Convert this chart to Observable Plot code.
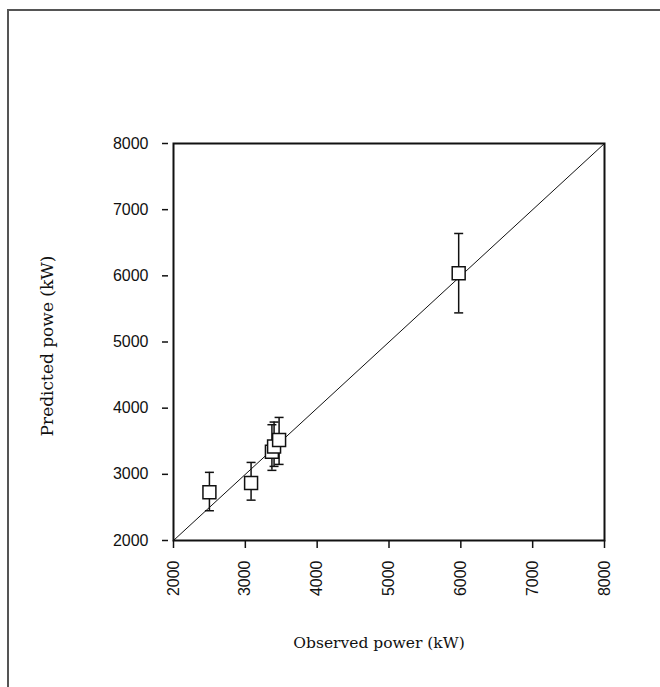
<!DOCTYPE html>
<html>
<head>
<meta charset="utf-8">
<script src="https://cdn.jsdelivr.net/npm/d3@7"></script>
<script src="https://cdn.jsdelivr.net/npm/@observablehq/plot@0.6"></script>
<style>
  html, body { margin: 0; padding: 0; background: #fff; }
  #wrap { position: relative; width: 660px; height: 687px; overflow: hidden; }
  #border { position: absolute; left: 7px; top: 9px; width: 700px; height: 700px;
            border-top: 2px solid #555; border-left: 2px solid #555; pointer-events: none; }
</style>
</head>
<body>
<div id="wrap"><div id="border"></div></div>
<script>
const observed  = [2500, 3080, 3370, 3400, 3470, 5970];
const predicted = [2730, 2870, 3340, 3420, 3520, 6040];
const errLow    = [2450, 2610, 3060, 3120, 3150, 5440];
const errHigh   = [3030, 3180, 3750, 3790, 3860, 6640];
const axisTicks = [2000, 3000, 4000, 5000, 6000, 7000, 8000];
const diagonal  = [2000, 8000];
const xTitle = "Observed power (kW)";
const yTitle = "Predicted powe (kW)";

const data = observed.map((x, i) => ({x, y: predicted[i], lo: errLow[i], hi: errHigh[i]}));

const capSymbol = {
  draw(context, size) {
    const r = Math.sqrt(size / Math.PI);
    context.moveTo(-r, 0);
    context.lineTo(r, 0);
  }
};

const fmt = d3.format("d");

const chart = Plot.plot({
  width: 660,
  height: 687,
  marginLeft: 173,
  marginRight: 56,
  marginTop: 143,
  marginBottom: 147,
  style: {background: "transparent", color: "#111"},
  x: {domain: [2000, 8000]},
  y: {domain: [2000, 8000]},
  marks: [
    Plot.axisY({ticks: axisTicks, tickFormat: fmt, tickSize: 6, tickPadding: 14, dx: -5, label: null,
      fontSize: 16, fontFamily: "Liberation Sans", strokeWidth: 1.5}),
    Plot.axisX({ticks: axisTicks, tickFormat: fmt, tickSize: 8, tickPadding: 12, tickRotate: -90, label: null,
      fontSize: 16, fontFamily: "Liberation Sans", strokeWidth: 1.5}),
    Plot.line(diagonal, {x: d => d, y: d => d, stroke: "#111", strokeWidth: 1}),
    Plot.ruleX(data, {x: "x", y1: "lo", y2: "hi", stroke: "#111", strokeWidth: 1.5}),
    Plot.dot(data, {x: "x", y: "lo", symbol: capSymbol, r: 4.5, stroke: "#111", strokeWidth: 1.5}),
    Plot.dot(data, {x: "x", y: "hi", symbol: capSymbol, r: 4.5, stroke: "#111", strokeWidth: 1.5}),
    Plot.dot(data, {x: "x", y: "y", symbol: "square", r: 7.3, fill: "white", stroke: "#111", strokeWidth: 1.5}),
    Plot.frame({stroke: "#111", strokeWidth: 2}),
    Plot.text([xTitle], {text: d => d, frameAnchor: "bottom", dy: 107, dx: -10,
      fontSize: 15.5, fontFamily: "DejaVu Serif", fill: "#111"}),
    Plot.text([yTitle], {text: d => d, frameAnchor: "left", textAnchor: "middle", rotate: -90, dx: -126, dy: 4,
      fontSize: 17, fontFamily: "DejaVu Serif", fill: "#111"})
  ]
});
document.getElementById("wrap").prepend(chart);
</script>
</body>
</html>
